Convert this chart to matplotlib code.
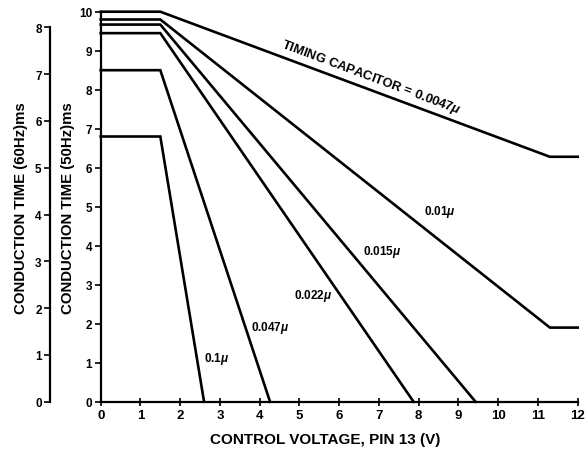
import matplotlib
matplotlib.use('Agg')
import matplotlib.pyplot as plt

plt.rcParams['font.family'] = ['Liberation Sans', 'DejaVu Sans']
plt.rcParams['font.weight'] = 'bold'
plt.rcParams['mathtext.fontset'] = 'custom'
plt.rcParams['mathtext.it'] = 'Liberation Sans:italic'

# conduction time (50 Hz, ms) vs control voltage (V), one per timing cap
cap_labels = ['0.0047', '0.01', '0.015', '0.022', '0.047', '0.1']
v_0047 = [0, 1.5, 11.3, 12]
t_0047 = [10.0, 10.0, 6.28, 6.28]
v_001 = [0, 1.5, 11.3, 12]
t_001 = [9.8, 9.8, 1.9, 1.9]
v_0015 = [0, 1.5, 9.43]
t_0015 = [9.67, 9.67, 0]
v_0022 = [0, 1.5, 7.87]
t_0022 = [9.45, 9.45, 0]
v_0047u = [0, 1.5, 4.26]
t_0047u = [8.5, 8.5, 0]
v_01 = [0, 1.5, 2.6]
t_01 = [6.8, 6.8, 0]

# label anchor positions (data units)
lab_x = [8.54, 7.07, 5.34, 4.27, 2.92]
lab_y = [4.89, 3.87, 2.74, 1.91, 1.11]

x_ticks = list(range(0, 13))
y50_ticks = list(range(0, 11))
y60_ticks = list(range(0, 9))

W, H = 588, 452
fig = plt.figure(figsize=(W / 100, H / 100), dpi=100)
left, right = 100.7 / W, 577.7 / W
bottom, top = (H - 402.7) / H, (H - 12.7) / H
ax = fig.add_axes([left, bottom, right - left, top - bottom])

curves = [(v_0047, t_0047), (v_001, t_001), (v_0015, t_0015),
          (v_0022, t_0022), (v_0047u, t_0047u), (v_01, t_01)]
for v, t in curves:
    ax.plot(v, t, color='black', lw=1.9, solid_joinstyle='miter',
            clip_on=False)

ax.set_xlim(0, 12)
ax.set_ylim(0, 10)
for s in ('top', 'right'):
    ax.spines[s].set_visible(False)
for s in ('left', 'bottom'):
    ax.spines[s].set_linewidth(1.6)
ax.set_xticks(x_ticks)
ax.set_yticks(y50_ticks)
ax.tick_params(axis='x', direction='inout', length=6, width=1.2,
               labelsize=9.5, pad=2)
ax.tick_params(axis='y', direction='out', length=4, width=1.2,
               labelsize=8.5, pad=2)
for lab in ax.get_xticklabels() + ax.get_yticklabels():
    lab.set_fontweight('bold')
ax.set_xlabel('CONTROL VOLTAGE, PIN 13 (V)', fontsize=11,
              fontweight='bold')
ax.xaxis.set_label_coords(0.47, -0.077)
ax.set_ylabel('CONDUCTION TIME (50Hz)ms', fontsize=10.8,
              fontweight='bold')
ax.yaxis.set_label_coords(-0.054, 0.5)

# 60 Hz scale: same time base, 5/6 of 50 Hz value
ax2 = fig.add_axes([50 / W, bottom, 0.001, top - bottom])
ax2.set_ylim(0, 10 * 5 / 6)
ax2.set_xticks([])
for s in ('top', 'right', 'bottom'):
    ax2.spines[s].set_visible(False)
ax2.spines['left'].set_linewidth(1.6)
ax2.spines['left'].set_bounds(0, 8)
ax2.set_yticks(y60_ticks)
ax2.tick_params(axis='y', direction='out', length=4, width=1.2,
                labelsize=8.5, pad=2)
for lab in ax2.get_yticklabels():
    lab.set_fontweight('bold')
ax2.patch.set_visible(False)
ax2.set_ylabel('CONDUCTION TIME (60Hz)ms', fontsize=10.8,
               fontweight='bold', labelpad=5)

ax.text(6.8, 8.32, 'TIMING CAPACITOR = 0.0047$\\mu$', rotation=-20.5,
        ha='center', va='center', fontsize=9.4, fontweight='bold',
        rotation_mode='anchor')
for name, x, y in zip(cap_labels[1:], lab_x, lab_y):
    ax.text(x, y, name + '$\\mu$', ha='center', va='center',
            fontsize=8.5, fontweight='bold')

fig.savefig('out.png', dpi=100)
